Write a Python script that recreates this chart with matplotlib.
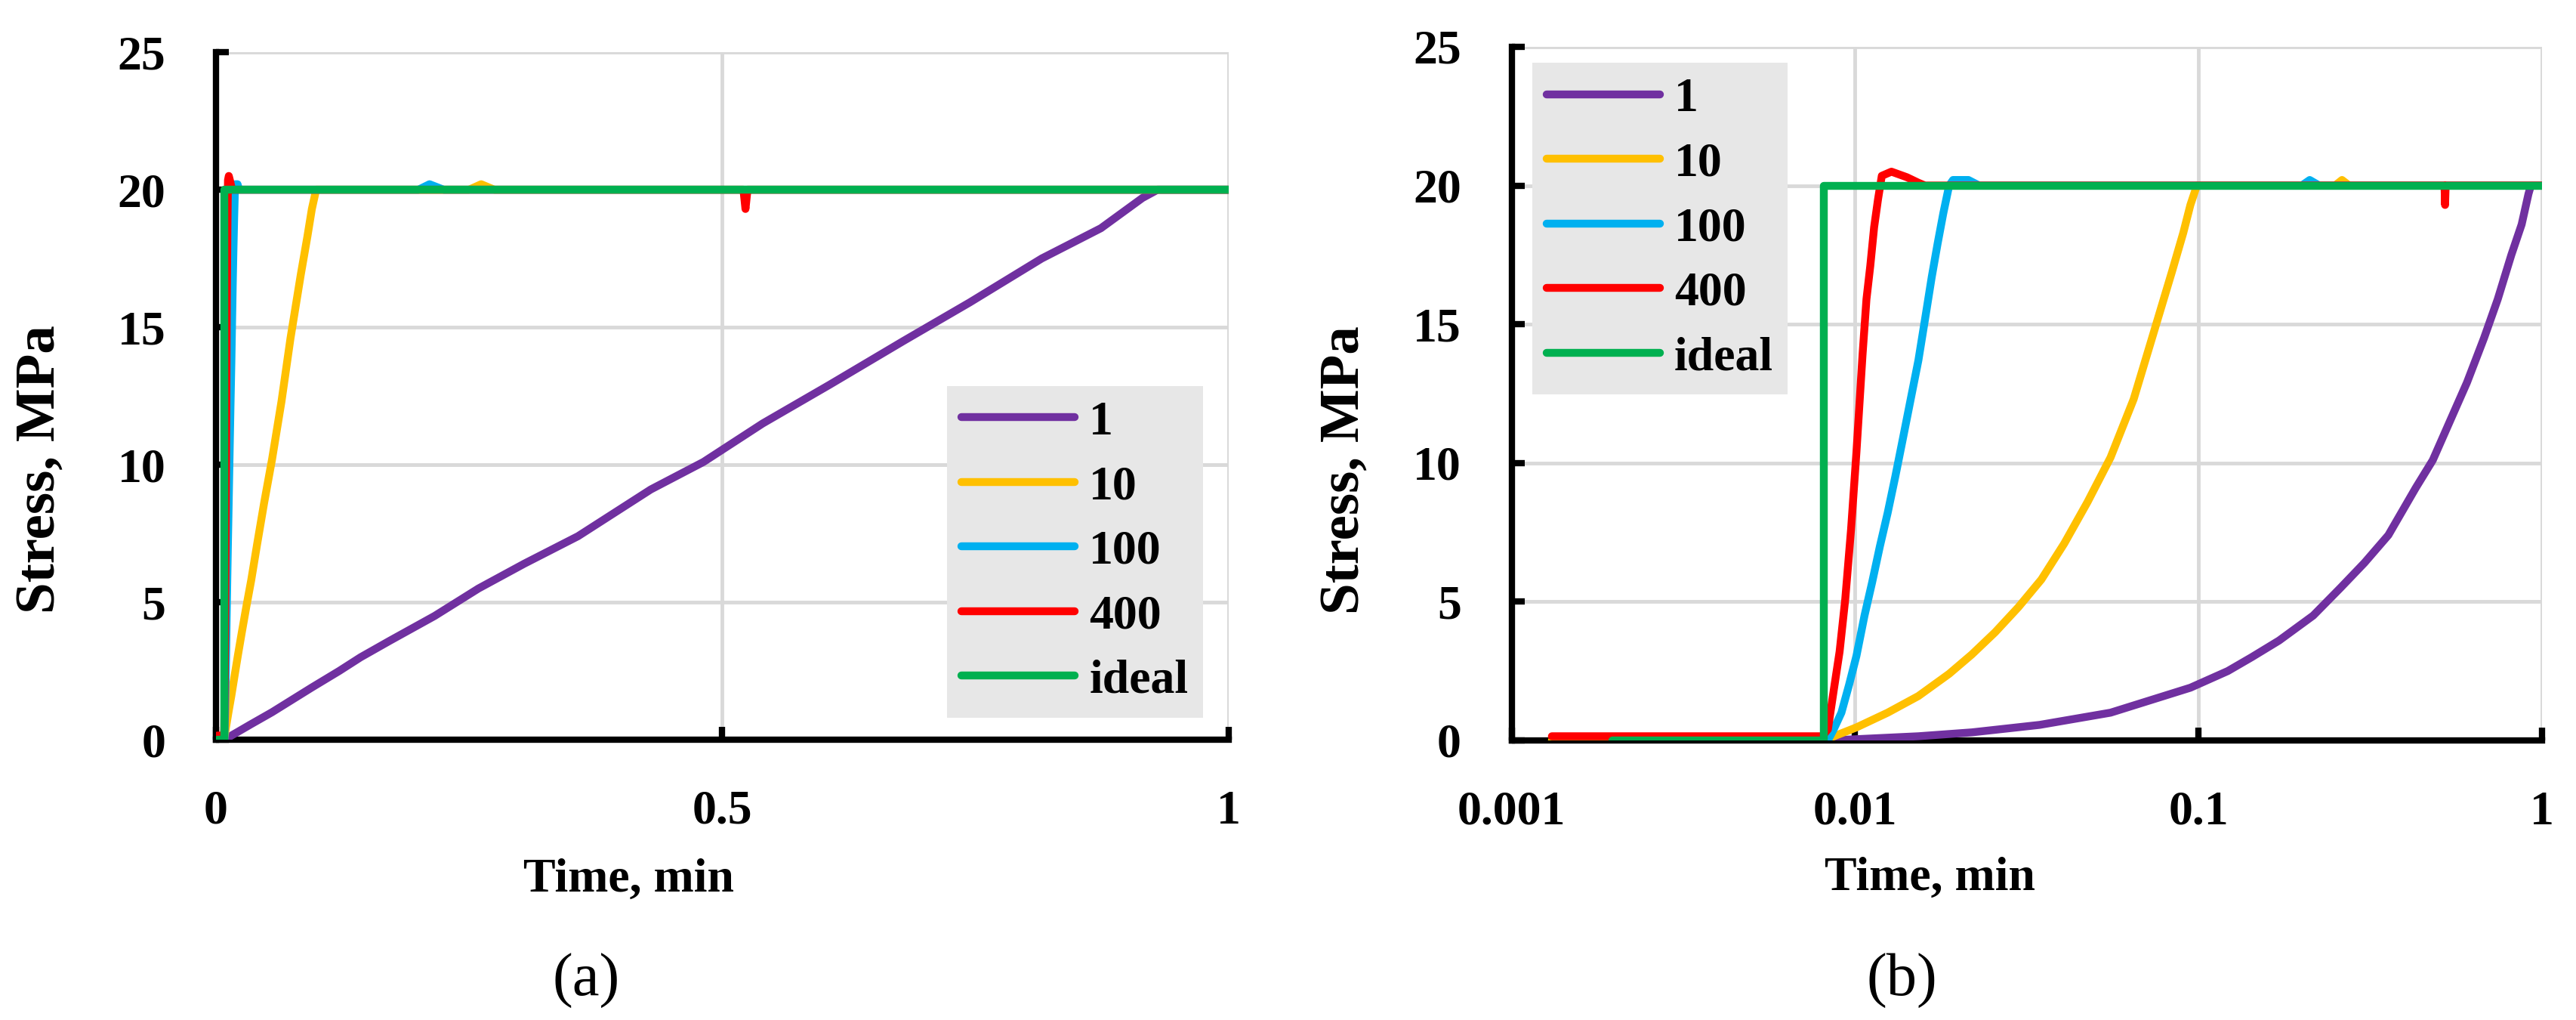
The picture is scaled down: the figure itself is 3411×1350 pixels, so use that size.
import matplotlib
matplotlib.use("Agg")
import matplotlib.pyplot as plt

# stress history for each loading rate (time in min, stress in MPa)
t_1 = [0.0085, 0.0153, 0.0219, 0.0345, 0.0555, 0.0948, 0.1218, 0.143, 0.1718,
       0.216, 0.2594, 0.3045, 0.3576, 0.4295, 0.4815, 0.54, 0.6057, 0.679,
       0.7444, 0.8156, 0.874, 0.915, 0.93, 1.0]
s_1 = [0.0, 0.15, 0.29, 0.56, 1.0, 1.9, 2.5, 3.0, 3.6, 4.5, 5.5, 6.4, 7.4,
       9.1, 10.1, 11.5, 12.9, 14.5, 15.9, 17.5, 18.6, 19.7, 20.0, 20.0]

t_10 = [0.00131, 0.0081, 0.0101, 0.01245, 0.0153, 0.0188, 0.0219, 0.0256,
        0.0299, 0.0349, 0.0407, 0.0476, 0.0555, 0.0648, 0.0737, 0.0838,
        0.0904, 0.0948, 0.099, 0.25, 0.262, 0.275, 1.0]
s_10 = [0.0, 0.0, 0.47, 1.0, 1.6, 2.4, 3.1, 3.9, 4.8, 5.8, 7.1, 8.6, 10.2,
        12.3, 14.6, 16.9, 18.3, 19.3, 20.0, 20.0, 20.2, 20.0, 20.0]

t_100 = [0.0081, 0.00834, 0.00867, 0.00913, 0.00961, 0.0101, 0.01066, 0.01122,
         0.01182, 0.01245, 0.0131, 0.0138, 0.01453, 0.0153, 0.0161, 0.01673,
         0.0174, 0.01808, 0.0188, 0.0193, 0.0214, 0.023, 0.2, 0.211, 0.225, 1.0]
s_100 = [0.0, 0.0, 0.4, 1.0, 2.0, 3.05, 4.5, 5.7, 7.0, 8.2, 9.5, 10.9, 12.3,
         13.7, 15.4, 16.7, 17.9, 19.0, 20.0, 20.2, 20.2, 20.0, 20.0, 20.2,
         20.0, 20.0]

t_400 = [0.00131, 0.00803, 0.00834, 0.00867, 0.00902, 0.00937, 0.00974, 0.0101,
         0.01052, 0.0108, 0.01108, 0.01137, 0.01167, 0.01197, 0.01277, 0.01416,
         0.0153, 0.016, 0.521, 0.523, 0.525, 1.0]
s_400 = [0.15, 0.15, 0.4, 1.8, 3.2, 5.1, 7.6, 10.4, 13.9, 15.9, 17.1, 18.5,
         19.5, 20.35, 20.5, 20.3, 20.1, 20.0, 20.0, 19.3, 20.0, 20.0]

t_ideal = [0.00197, 0.0081, 0.0081, 1.0]
s_ideal = [0.0, 0.0, 20.0, 20.0]

series = [
    ("1", t_1, s_1, "#7030A0"),
    ("10", t_10, s_10, "#FFC000"),
    ("100", t_100, s_100, "#00B0F0"),
    ("400", t_400, s_400, "#FF0000"),
    ("ideal", t_ideal, s_ideal, "#00B050"),
]

plt.rcParams["font.family"] = ["Liberation Serif", "DejaVu Serif"]
plt.rcParams["font.weight"] = "bold"

fig = plt.figure(figsize=(34.11, 13.5), dpi=100)
ax_a = fig.add_axes([0.0838, 0.2748, 0.3931, 0.674])
ax_b = fig.add_axes([0.5868, 0.2741, 0.3999, 0.680])

FS = 46


def style_axis(ax):
    for side in ("top", "right"):
        ax.spines[side].set_visible(False)
    for side in ("left", "bottom"):
        ax.spines[side].set_linewidth(6)
        ax.spines[side].set_color("black")
    ax.grid(True, color="#d9d9d9", linewidth=3.5, zorder=0)
    ax.set_axisbelow(True)
    ax.tick_params(axis="both", which="major", direction="in", length=12,
                   width=6, labelsize=FS, pad=48)
    ax.tick_params(axis="both", which="minor", length=0)
    ax.set_ylim(0, 25)
    ax.set_yticks([0, 5, 10, 15, 20, 25])
    for lab in ax.get_xticklabels() + ax.get_yticklabels():
        lab.set_fontweight("bold")
    ax.set_ylabel("Stress, MPa", fontsize=54, fontweight="bold")
    ax.set_xlabel("Time, min", fontsize=FS, fontweight="bold")


def add_legend(ax, loc, anchor):
    leg = ax.legend(loc=loc, bbox_to_anchor=anchor, fontsize=FS, frameon=True,
                    fancybox=False, handlelength=2.35, handletextpad=0.3,
                    labelspacing=0.42, borderpad=0.3, borderaxespad=0)
    leg.get_frame().set_facecolor("#e7e7e7")
    leg.get_frame().set_edgecolor("none")
    leg.get_frame().set_alpha(1)
    for txt in leg.get_texts():
        txt.set_fontweight("bold")
    return leg


# (a) linear time axis
for name, t, s, c in series:
    ax_a.plot(t, s, color=c, linewidth=7.5, label=name, solid_capstyle="round",
              zorder=3)
ax_a.set_xlim(0, 1)
ax_a.set_xticks([0, 0.5, 1])
ax_a.set_xticklabels(["0", "0.5", "1"])
style_axis(ax_a)
ax_a.yaxis.set_label_coords(-0.1477, 0.393)
ax_a.xaxis.set_label_coords(0.408, -0.172)
add_legend(ax_a, "lower right", (0.9746, 0.032))

# (b) logarithmic time axis
for name, t, s, c in series:
    ax_b.plot(t, s, color=c, linewidth=7.5, label=name, solid_capstyle="round",
              zorder=3)
ax_b.set_xscale("log")
ax_b.set_xlim(0.001, 1)
ax_b.set_xticks([0.001, 0.01, 0.1, 1])
ax_b.set_xticklabels(["0.001", "0.01", "0.1", "1"])
style_axis(ax_b)
ax_b.yaxis.set_label_coords(-0.137, 0.39)
ax_b.xaxis.set_label_coords(0.406, -0.168)
add_legend(ax_b, "upper left", (0.0198, 0.977))

fig.text(0.2276, 0.0385, "(a)", fontsize=58, fontweight="normal",
         ha="center", va="center")
fig.text(0.7384, 0.0385, "(b)", fontsize=58, fontweight="normal",
         ha="center", va="center")

fig.savefig("out.png", dpi=100, facecolor="white")
